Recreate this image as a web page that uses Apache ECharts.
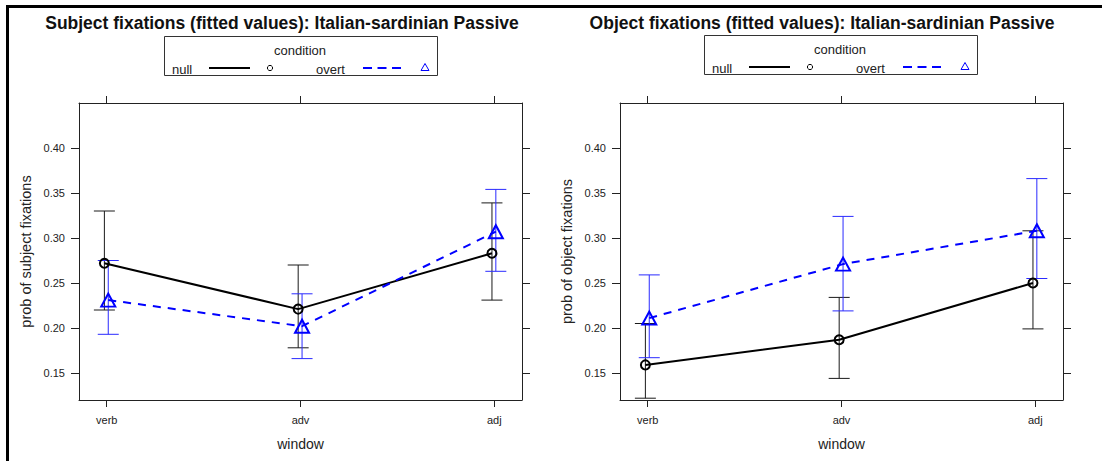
<!DOCTYPE html>
<html>
<head>
<meta charset="utf-8">
<script src="https://cdn.jsdelivr.net/npm/echarts@6/dist/echarts.min.js"></script>
<style>
  html, body { margin: 0; padding: 0; background: #fff; }
  #chart { width: 1102px; height: 461px; }
</style>
</head>
<body>
<div id="chart"></div>
<script>
// Fitted fixation probabilities by window and condition, with confidence bounds
const windows = ['verb', 'adv', 'adj'];
const yTicks = [0.15, 0.20, 0.25, 0.30, 0.35, 0.40];

const subjNull    = [0.272, 0.221, 0.283];
const subjNullLo  = [0.220, 0.178, 0.231];
const subjNullHi  = [0.330, 0.270, 0.339];
const subjOvert   = [0.231, 0.202, 0.307];
const subjOvertLo = [0.193, 0.166, 0.263];
const subjOvertHi = [0.275, 0.238, 0.354];

const objNull    = [0.159, 0.187, 0.250];
const objNullLo  = [0.122, 0.144, 0.199];
const objNullHi  = [0.205, 0.234, 0.308];
const objOvert   = [0.211, 0.271, 0.308];
const objOvertLo = [0.167, 0.219, 0.255];
const objOvertHi = [0.259, 0.324, 0.366];

const panels = [
  { title: 'Subject fixations (fitted values): Italian-sardinian Passive',
    yName: 'prob of subject fixations',
    nul: subjNull, nulLo: subjNullLo, nulHi: subjNullHi,
    ovt: subjOvert, ovtLo: subjOvertLo, ovtHi: subjOvertHi },
  { title: 'Object fixations (fitted values): Italian-sardinian Passive',
    yName: 'prob of object fixations',
    nul: objNull, nulLo: objNullLo, nulHi: objNullHi,
    ovt: objOvert, ovtLo: objOvertLo, ovtHi: objOvertHi }
];

// layout of the two plot boxes
const grids = [
  { left: 79, top: 103, width: 443, height: 297 },
  { left: 620, top: 103, width: 443, height: 297 }
];
const FONT = 'Liberation Sans, Arial, sans-serif';
const AXIS = '#222';
const BLACK = '#000000';
const BLUE = '#0000ff';
const NULL_SHIFT = -0.012;   // small horizontal dodge between conditions
const OVERT_SHIFT = 0.008;
const X_MIN = -0.143, X_MAX = 2.143;
const Y_MIN = 0.12, Y_MAX = 0.45;
const CAP = 10.5;

const xAxes = [], yAxes = [], series = [], graphics = [];

function errorBars(gi, xs, lo, hi, color) {
  return {
    type: 'custom', xAxisIndex: gi * 2, yAxisIndex: gi * 2, z: 3,
    silent: true,
    data: xs.map((x, i) => [x, lo[i], hi[i]]),
    encode: { x: 0, y: [1, 2] },
    renderItem: function (params, api) {
      const x = api.value(0);
      const pLo = api.coord([x, api.value(1)]);
      const pHi = api.coord([x, api.value(2)]);
      const st = { stroke: color, lineWidth: 1 };
      return {
        type: 'group',
        children: [
          { type: 'line', shape: { x1: pLo[0], y1: pLo[1], x2: pHi[0], y2: pHi[1] }, style: st },
          { type: 'line', shape: { x1: pLo[0] - CAP, y1: pLo[1], x2: pLo[0] + CAP, y2: pLo[1] }, style: st },
          { type: 'line', shape: { x1: pHi[0] - CAP, y1: pHi[1], x2: pHi[0] + CAP, y2: pHi[1] }, style: st }
        ]
      };
    }
  };
}

panels.forEach((p, gi) => {
  const axisLine = { show: true, onZero: false, lineStyle: { color: AXIS, width: 1 } };
  // bottom / top window axes
  xAxes.push({
    type: 'value', gridIndex: gi, position: 'bottom', min: X_MIN, max: X_MAX,
    axisLine: axisLine, splitLine: { show: false },
    axisTick: { show: true, inside: false, length: 7, customValues: [0, 1, 2], lineStyle: { color: AXIS } },
    axisLabel: { show: true, customValues: [0, 1, 2], margin: 14, fontSize: 11, color: '#222', fontFamily: FONT,
      formatter: v => windows[Math.round(v)] },
    name: 'window', nameLocation: 'middle', nameGap: 37,
    nameTextStyle: { fontSize: 14, color: '#222', fontFamily: FONT }
  });
  xAxes.push({
    type: 'value', gridIndex: gi, position: 'top', min: X_MIN, max: X_MAX,
    axisLine: axisLine, splitLine: { show: false },
    axisTick: { show: true, inside: false, length: 7, customValues: [0, 1, 2], lineStyle: { color: AXIS } },
    axisLabel: { show: false }
  });
  // left / right probability axes
  yAxes.push({
    type: 'value', gridIndex: gi, position: 'left', min: Y_MIN, max: Y_MAX,
    axisLine: axisLine, splitLine: { show: false },
    axisTick: { show: true, inside: false, length: 8, customValues: yTicks, lineStyle: { color: AXIS } },
    axisLabel: { show: true, customValues: yTicks, margin: 14, fontSize: 11, color: '#222', fontFamily: FONT,
      formatter: v => v.toFixed(2) },
    name: p.yName, nameLocation: 'middle', nameGap: 46, nameRotate: 90,
    nameTextStyle: { fontSize: 14.5, color: '#222', fontFamily: FONT }
  });
  yAxes.push({
    type: 'value', gridIndex: gi, position: 'right', min: Y_MIN, max: Y_MAX,
    axisLine: axisLine, splitLine: { show: false },
    axisTick: { show: true, inside: false, length: 8, customValues: yTicks, lineStyle: { color: AXIS } },
    axisLabel: { show: false }
  });

  const xNull = windows.map((_, i) => i + NULL_SHIFT);
  const xOvert = windows.map((_, i) => i + OVERT_SHIFT);

  series.push(errorBars(gi, xNull, p.nulLo, p.nulHi, '#1a1a1a'));
  series.push(errorBars(gi, xOvert, p.ovtLo, p.ovtHi, '#2a2aff'));
  series.push({
    type: 'line', name: 'null', xAxisIndex: gi * 2, yAxisIndex: gi * 2, z: 4,
    data: xNull.map((x, i) => [x, p.nul[i]]),
    symbol: 'circle', symbolSize: 9, showSymbol: true,
    lineStyle: { color: BLACK, width: 2, type: 'solid' },
    itemStyle: { color: 'rgba(0,0,0,0)', borderColor: BLACK, borderWidth: 2 },
    emphasis: { disabled: true }, silent: true
  });
  series.push({
    type: 'line', name: 'overt', xAxisIndex: gi * 2, yAxisIndex: gi * 2, z: 4,
    data: xOvert.map((x, i) => [x, p.ovt[i]]),
    symbol: 'triangle', symbolSize: [14, 13], showSymbol: true,
    lineStyle: { color: BLUE, width: 2, type: [8, 7] },
    itemStyle: { color: 'rgba(0,0,0,0)', borderColor: BLUE, borderWidth: 2 },
    emphasis: { disabled: true }, silent: true
  });

  // panel title
  const cx = gi === 0 ? 282 : 822;
  graphics.push({
    type: 'text', x: cx, y: 23,
    style: { text: p.title, fill: '#111', font: 'bold 17.5px ' + FONT, align: 'center', verticalAlign: 'middle' }
  });

  // condition key
  const lx = gi === 0 ? 164 : 704;
  const ly = gi === 0 ? 36 : 35;
  graphics.push({
    type: 'rect', shape: { x: lx + 0.5, y: ly + 0.5, width: 273, height: 39 },
    style: { fill: '#fff', stroke: '#333', lineWidth: 1 }
  });
  graphics.push({
    type: 'text', x: lx + 136, y: ly + 14,
    style: { text: 'condition', fill: '#222', font: '13px ' + FONT, align: 'center', verticalAlign: 'middle' }
  });
  graphics.push({
    type: 'text', x: lx + 8, y: ly + 33,
    style: { text: 'null', fill: '#222', font: '13px ' + FONT, align: 'left', verticalAlign: 'middle' }
  });
  graphics.push({
    type: 'line', shape: { x1: lx + 45, y1: ly + 32, x2: lx + 86, y2: ly + 32 },
    style: { stroke: BLACK, lineWidth: 2 }
  });
  graphics.push({
    type: 'circle', shape: { cx: lx + 106, cy: ly + 32, r: 2.6 },
    style: { fill: 'none', stroke: BLACK, lineWidth: 1 }
  });
  graphics.push({
    type: 'text', x: lx + 152, y: ly + 33,
    style: { text: 'overt', fill: '#222', font: '13px ' + FONT, align: 'left', verticalAlign: 'middle' }
  });
  graphics.push({
    type: 'line', shape: { x1: lx + 199, y1: ly + 32, x2: lx + 237, y2: ly + 32 },
    style: { stroke: BLUE, lineWidth: 2, lineDash: [9, 5.5] }
  });
  graphics.push({
    type: 'polygon', shape: { points: [[lx + 261, ly + 27.5], [lx + 257, ly + 34.5], [lx + 265, ly + 34.5]] },
    style: { fill: 'none', stroke: BLUE, lineWidth: 1 }
  });
});

// outer frame on the left and top edges
graphics.push({ type: 'rect', shape: { x: 6, y: 5, width: 3, height: 456 }, style: { fill: '#000' } });
graphics.push({ type: 'rect', shape: { x: 6, y: 5, width: 1096, height: 3 }, style: { fill: '#000' } });

const chart = echarts.init(document.getElementById('chart'), null, { renderer: 'svg' });
chart.setOption({
  animation: false,
  backgroundColor: '#fff',
  grid: grids,
  xAxis: xAxes,
  yAxis: yAxes,
  series: series,
  graphic: graphics
});
</script>
</body>
</html>
